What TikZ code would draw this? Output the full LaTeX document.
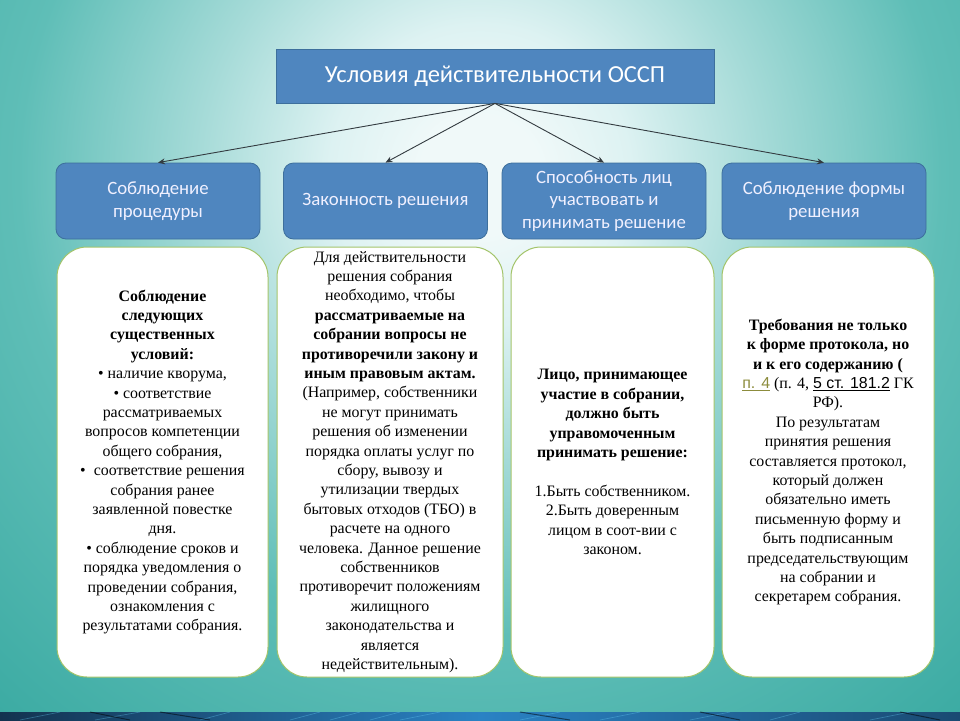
\documentclass[tikz,border=0pt]{standalone}
\usepackage{fontspec}
\setmainfont{Liberation Serif}
\newfontfamily\calib{Carlito}
\newfontfamily\arialf{Liberation Sans}
\usetikzlibrary{arrows.meta}
\definecolor{bgc}{HTML}{F0F9F9}
\definecolor{bgl}{HTML}{DDF2F2}
\definecolor{bgm}{HTML}{A6DBD8}
\definecolor{bgo}{HTML}{5FBEB7}
\definecolor{bgd}{HTML}{3CABA3}
\definecolor{boxblue}{HTML}{4F86BF}
\definecolor{boxedge}{HTML}{3D6F9C}
\definecolor{greenedge}{HTML}{A3C46A}
\definecolor{linkc}{HTML}{8C8C3C}
\definecolor{arrowc}{HTML}{333B40}
\definecolor{banddark}{HTML}{13324F}
\definecolor{bandblue}{HTML}{2A82C4}
\pgfdeclareradialshading{bgshade}{\pgfpoint{0bp}{0bp}}{color(0bp)=(bgc); color(60bp)=(bgc); color(150bp)=(bgl); color(280bp)=(bgm); color(460bp)=(bgo); color(720bp)=(bgd)}
\tikzset{
  topbox/.style={draw=boxedge, line width=0.8pt, fill=boxblue, minimum width=438pt, minimum height=54pt, inner sep=0pt,
    text=white, font=\calib\fontsize{24.5}{28}\selectfont},
  bluebox/.style={draw=boxedge, line width=0.8pt, fill=boxblue, rounded corners=10pt, minimum width=204pt, minimum height=76pt,
    inner sep=0pt, text=white!94!blue, align=center, font=\calib\fontsize{18.8}{22.5}\selectfont},
  whitebox/.style={draw=greenedge, line width=1pt, fill=white, rounded corners=30pt, minimum height=430pt, inner sep=0pt,
    align=center, font=\fontsize{15.9}{19.4}\selectfont},
  conn/.style={draw=arrowc, line width=0.9pt, -{Stealth[length=7pt,width=6pt]}}
}
\begin{document}
\begin{tikzpicture}[x=1pt,y=-1pt]
\useasboundingbox (0,0) rectangle (960,720);
\begin{scope}
\clip (0,0) rectangle (960,720);
\fill[bgd] (0,0) rectangle (960,720);
\node[inner sep=0pt, outer sep=0pt] (bg) at (480,175) {\pgfuseshading{bgshade}};
% bottom band
\shade[left color=banddark, right color=bandblue] (0,712) rectangle (480,720);
\shade[left color=bandblue, right color=banddark!70!bandblue] (480,712) rectangle (960,720);
\foreach \xa/\xb in {20/60, 95/140, 200/230, 290/320, 330/360, 370/400, 400/440, 520/560, 600/640, 690/730, 770/800, 870/910}{
  \draw[white!40!cyan, opacity=0.35, line width=0.7pt] (\xa,720) -- (\xb,712);
}
\foreach \xa/\xb in {90/130, 160/210, 520/570, 700/740, 900/940}{
  \draw[black, opacity=0.5, line width=1pt] (\xa,712) -- (\xb,720);
}
\end{scope}

\node[topbox] (top) at (495,76) {Условия действительности ОССП};

\node[bluebox] (b1) at (158,201) {Соблюдение\\процедуры};
\node[bluebox] (b2) at (385.5,201) {Законность решения};
\node[bluebox] (b3) at (604,201) {Способность лиц\\участвовать и\\принимать решение};
\node[bluebox] (b4) at (824,201) {Соблюдение формы\\решения};

\draw[conn] (top.south) -- (b1.north);
\draw[conn] (top.south) -- (b2.north);
\draw[conn] (top.south) -- (b3.north);
\draw[conn] (top.south) -- (b4.north);

\node[whitebox, minimum width=211pt] (w1) at (162.5,462) {%
\textbf{Соблюдение}\\\textbf{следующих}\\\textbf{существенных}\\\textbf{условий:}\\
• наличие кворума,\\• соответствие\\рассматриваемых\\вопросов компетенции\\общего собрания,\\
•\ \ соответствие решения\\собрания ранее\\заявленной повестке\\дня.\\
• соблюдение сроков и\\порядка уведомления о\\проведении собрания,\\ознакомления с\\результатами собрания.};

\node[whitebox, minimum width=226pt] (w2) at (390,462) {%
Для действительности\\решения собрания\\необходимо, чтобы\\
\textbf{рассматриваемые на}\\\textbf{собрании вопросы не}\\\textbf{противоречили закону и}\\\textbf{иным правовым актам.}\\
(Например, собственники\\не могут принимать\\решения об изменении\\порядка оплаты услуг по\\сбору, вывозу и\\утилизации твердых\\бытовых отходов (ТБО) в\\расчете на одного\\человека. Данное решение\\собственников\\противоречит положениям\\жилищного\\законодательства и\\является\\недействительным).};

\node[whitebox, minimum width=203pt] (w3) at (612.5,462) {%
\textbf{Лицо, принимающее}\\\textbf{участие в собрании,}\\\textbf{должно быть}\\\textbf{управомоченным}\\\textbf{принимать решение:}\\[19.4pt]
1.Быть собственником.\\2.Быть доверенным\\лицом в соот-вии с\\законом.};

\node[whitebox, minimum width=212pt] (w4) at (828,462) {%
\textbf{Требования не только}\\\textbf{к форме протокола, но}\\\textbf{и к его содержанию (}\\
{\arialf\color{linkc}\underline{п. 4}} (п. 4, {\arialf\underline{5 ст. 181.2}} ГК\\РФ).\\
По результатам\\принятия решения\\составляется протокол,\\который должен\\обязательно иметь\\письменную форму и\\быть подписанным\\председательствующим\\на собрании и\\секретарем собрания.};
\end{tikzpicture}
\end{document}
